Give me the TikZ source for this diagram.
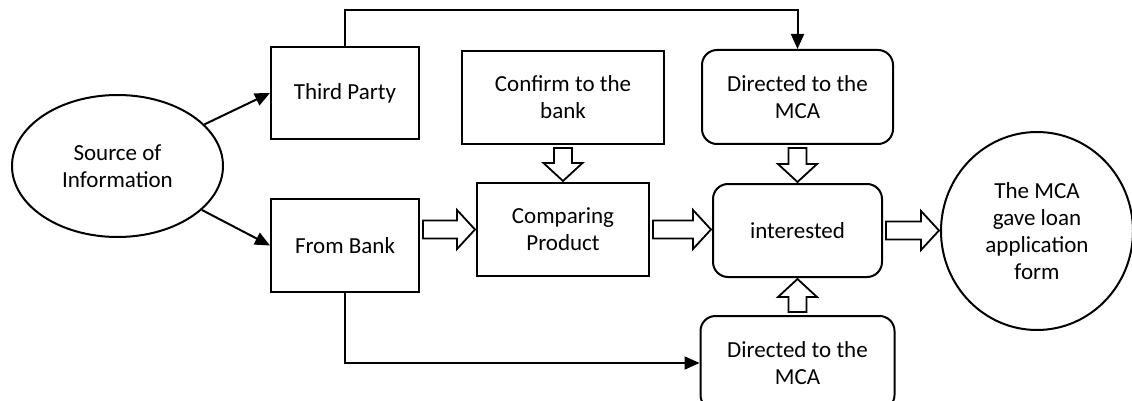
\documentclass[tikz,border=0pt]{standalone}
\usepackage{fontspec}
\setmainfont{Carlito}
\usetikzlibrary{arrows.meta,positioning,shapes.geometric,calc}
\tikzset{
  flowbox/.style={draw, line width=2pt, align=center, inner sep=2pt,
    font=\fontsize{23}{27}\selectfont},
  roundbox/.style={flowbox, rounded corners=15pt},
  oval/.style={flowbox, ellipse, inner sep=0pt},
  linarr/.style={-{Triangle[length=15pt,width=13pt]}, line width=2pt},
  hollow/.style={draw, line width=1.8pt, fill=white, to path={
    let \p1=(\tikztostart), \p2=(\tikztotarget),
        \n1={atan2(\y2-\y1,\x2-\x1)}, \n2={veclen(\x2-\x1,\y2-\y1)} in
    [shift={(\p1)}, rotate=\n1]
    (3pt,-9pt) -- ({\n2*1pt-19pt},-9pt) -- ({\n2*1pt-19pt},-19.5pt)
    -- ({\n2*1pt-1pt},0pt) -- ({\n2*1pt-19pt},19.5pt)
    -- ({\n2*1pt-19pt},9pt) -- (3pt,9pt) -- cycle}}
}
\begin{document}
\begin{tikzpicture}
\useasboundingbox (0,0) rectangle (1132pt,-401pt);
% left side
\node[oval, minimum width=211pt, minimum height=142pt] (src) at (117.5pt,-166pt) {Source of\\Information};
\node[flowbox, minimum width=148pt, minimum height=93pt] (bank) at (345pt,-245.5pt) {From Bank};
\node[flowbox, minimum width=148pt, minimum height=92pt, above=58pt of bank] (third) {Third Party};
% middle
\node[flowbox, minimum width=172pt, minimum height=93pt] (compare) at (563pt,-229.5pt) {Comparing\\Product};
\node[flowbox, minimum width=202pt, minimum height=93pt, above=37pt of compare] (confirm) {Confirm to the\\bank};
\node[roundbox, minimum width=169pt, minimum height=93pt] (interest) at (797.5pt,-230.5pt) {interested};
\node[roundbox, minimum width=191pt, minimum height=94pt, above=38pt of interest] (mcaA) {Directed to the\\MCA};
\node[roundbox, minimum width=194pt, minimum height=94pt, below=37pt of interest] (mcaB) {Directed to the\\MCA};
% right
\node[oval, minimum width=192pt, minimum height=198pt] (loan) at (1037pt,-231pt) {The MCA\\gave loan\\application\\form};

\draw[linarr] (src) -- (third.west);
\draw[linarr] (src) -- (bank.west);
\draw[linarr] (third.north) -- ++(0,36pt) -| (mcaA.north);
\draw[linarr] (bank.south) |- (mcaB.west);

\draw[hollow] (bank.east |- compare.west) to (compare.west);
\draw[hollow] (compare.east) to (compare.east -| interest.west);
\draw[hollow] (interest.east) to (interest.east -| loan.west);
\draw[hollow] (confirm.south) to (compare.north);
\draw[hollow] (mcaA.south) to (mcaA.south |- interest.north);
\draw[hollow] (mcaB.north) to (mcaB.north |- interest.south);
\end{tikzpicture}
\end{document}
